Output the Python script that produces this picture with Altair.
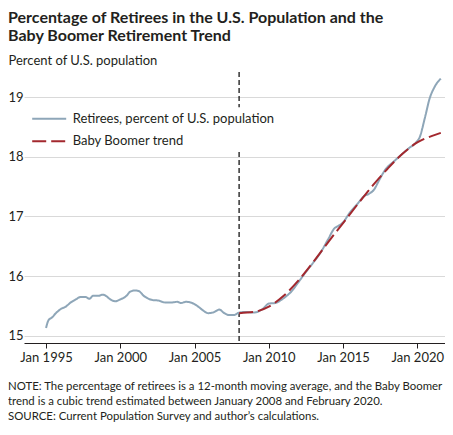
import altair as alt
import pandas as pd

# ---- data ----
retiree_dates = [
    "1995-01", "1995-03", "1995-06", "1995-09", "1996-01", "1996-05", "1996-09",
    "1997-01", "1997-05", "1997-09", "1997-12", "1998-03", "1998-07", "1998-11",
    "1999-02", "1999-05", "1999-09", "2000-01", "2000-06", "2000-09", "2001-01",
    "2001-04", "2001-08", "2001-11", "2002-03", "2002-08", "2003-01", "2003-07",
    "2003-11", "2004-02", "2004-06", "2004-11", "2005-04", "2005-07", "2005-12",
    "2006-04", "2006-09", "2007-01", "2007-05", "2007-09", "2008-01", "2008-06",
    "2009-01", "2009-08", "2010-01", "2010-06", "2011-01", "2011-08", "2012-01",
    "2012-07", "2013-01", "2013-07", "2014-01", "2014-06", "2014-09", "2015-01",
    "2015-06", "2016-01", "2016-06", "2016-10", "2017-02", "2017-06", "2017-11",
    "2018-06", "2019-01", "2019-06", "2019-12", "2020-03", "2020-07", "2020-11",
    "2021-03", "2021-08",
]
retiree_values = [
    15.13, 15.26, 15.31, 15.38, 15.45, 15.49, 15.56,
    15.61, 15.65, 15.65, 15.62, 15.67, 15.67, 15.69,
    15.66, 15.61, 15.58, 15.61, 15.67, 15.74, 15.76,
    15.75, 15.67, 15.63, 15.60, 15.59, 15.56, 15.56,
    15.57, 15.55, 15.57, 15.55, 15.49, 15.44, 15.38,
    15.39, 15.44, 15.38, 15.35, 15.35, 15.39, 15.40,
    15.39, 15.45, 15.54, 15.55, 15.63, 15.76, 15.90,
    16.07, 16.23, 16.40, 16.62, 16.80, 16.84, 16.90,
    17.05, 17.22, 17.34, 17.38, 17.45, 17.60, 17.78,
    17.92, 18.05, 18.14, 18.24, 18.33, 18.64, 18.98,
    19.17, 19.31,
]
trend_dates = [
    "2008-01", "2009-01", "2010-01", "2011-01", "2012-01", "2013-01", "2014-01",
    "2015-01", "2016-01", "2017-01", "2018-01", "2019-01", "2020-01", "2021-01",
    "2021-08",
]
trend_values = [
    15.38, 15.40, 15.49, 15.67, 15.93, 16.24, 16.57,
    16.89, 17.21, 17.52, 17.80, 18.05, 18.24, 18.35,
    18.40,
]
series_names = ["Retirees, percent of U.S. population", "Baby Boomer trend"]
series_colors = ["#8ea6b8", "#a3282e"]
series_dashes = [[1, 0], [14, 5]]
marker_date = "2008-01"
x_tick_years = [1995, 2000, 2005, 2010, 2015, 2020]
y_ticks = [15, 16, 17, 18, 19]
y_title = "Percent of U.S. population"
title_lines = [
    "Percentage of Retirees in the U.S. Population and the",
    "Baby Boomer Retirement Trend",
]
note_lines = [
    "NOTE: The percentage of retirees is a 12-month moving average, and the Baby Boomer",
    "trend is a cubic trend estimated between January 2008 and February 2020.",
    "SOURCE: Current Population Survey and author\u2019s calculations.",
]

# ---- build tables ----
def to_ts(d):
    return d + "-01T00:00:00"

df = pd.concat([
    pd.DataFrame({"date": [to_ts(d) for d in retiree_dates], "value": retiree_values,
                  "series": series_names[0]}),
    pd.DataFrame({"date": [to_ts(d) for d in trend_dates], "value": trend_values,
                  "series": series_names[1]}),
], ignore_index=True)

W, H = 421, 271
FONT = "Lato"
INK = "#231f20"

x_scale = alt.Scale(domain=[alt.DateTime(year=1993, month=7, date=8),
                            alt.DateTime(year=2021, month=11, date=12)], nice=False)
y_scale = alt.Scale(domain=[14.88, 19.42], nice=False, zero=False)

lines = alt.Chart(df).mark_line(strokeWidth=2, interpolate="monotone").encode(
    x=alt.X("date:T", scale=x_scale,
            axis=alt.Axis(values=[alt.DateTime(year=y, month=1, date=1) for y in x_tick_years],
                          format="%b %Y", title=None, grid=False, tickSize=5,
                          tickColor=INK, domainColor=INK, labelPadding=3,
                          labelFontSize=13, labelFont=FONT, labelColor=INK)),
    y=alt.Y("value:Q", scale=y_scale,
            axis=alt.Axis(values=y_ticks, grid=True, gridColor="#d9d9d9", domain=False,
                          ticks=False, tickSize=0, labelPadding=16, labelAlign="left",
                          labelFontSize=13, labelFont=FONT, labelColor=INK, title=y_title,
                          titleAngle=0, titleX=-16, titleY=-8, titleAlign="left",
                          titleBaseline="alphabetic", titleFont=FONT, titleFontSize=13,
                          titleFontWeight="normal", titleColor=INK)),
    color=alt.Color("series:N", title=None,
                    scale=alt.Scale(domain=series_names, range=series_colors),
                    sort=series_names),
    strokeDash=alt.StrokeDash("series:N", title=None,
                              scale=alt.Scale(domain=series_names, range=series_dashes),
                              sort=series_names),
    order=alt.Order("date:T"),
)

rule = alt.Chart(pd.DataFrame({"date": [to_ts(marker_date)]})).mark_rule(
    color="black", strokeDash=[5, 3], strokeWidth=1.2
).encode(x=alt.X("date:T", scale=x_scale))


def text_layer(txt, x, y, size, weight="normal"):
    return alt.Chart(pd.DataFrame({"t": [txt]})).mark_text(
        align="left", baseline="alphabetic", font=FONT, fontSize=size,
        fontWeight=weight, color=INK
    ).encode(x=alt.value(x), y=alt.value(y), text="t:N")


texts = [
    text_layer(title_lines[0], -16, -49, 16, "bold"),
    text_layer(title_lines[1], -16, -31.5, 16, "bold"),
    text_layer(note_lines[0], -16, 318, 11.4),
    text_layer(note_lines[1], -16, 333, 11.4),
    text_layer(note_lines[2], -16, 347.5, 11.4),
]

chart = alt.layer(rule, lines, *texts).properties(
    width=W, height=H,
    autosize=alt.AutoSizeParams(type="none"),
    padding={"left": 16, "top": 64, "right": 0, "bottom": 80},
    background="white",
).configure_view(stroke=None).configure_legend(
    orient="none", legendX=6.7, legendY=35.2, direction="vertical",
    symbolType="M-2,0H2", symbolSize=289, symbolStrokeWidth=2, symbolOffset=7,
    labelFontSize=13, labelFont=FONT, labelColor=INK, labelOffset=14, labelLimit=400,
    fillColor="white", padding=2, rowPadding=5.6,
)

chart.save("out.html", embed_options={"renderer": "svg", "actions": False})
